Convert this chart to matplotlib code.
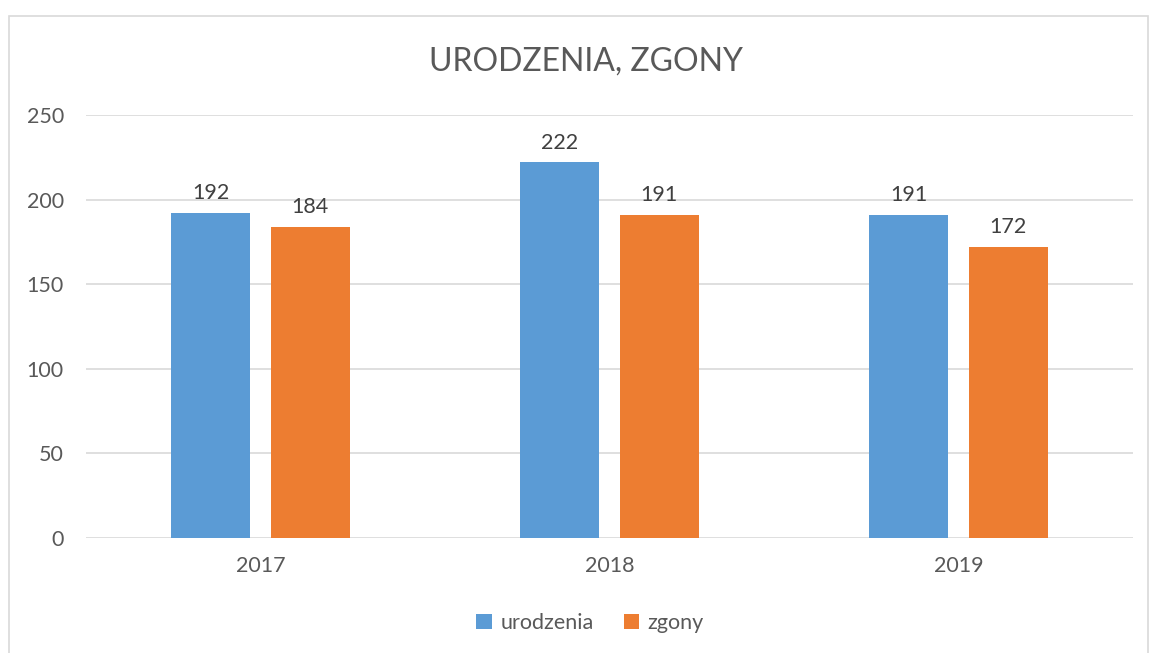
import numpy as np
import matplotlib
matplotlib.use('Agg')
import matplotlib.pyplot as plt
from matplotlib.patches import Rectangle

plt.rcParams['font.family'] = ['Lato', 'DejaVu Sans']

# ── dane ──────────────────────────────────────────────
years = ['2017', '2018', '2019']
urodzenia = [192, 222, 191]
zgony = [184, 191, 172]

TEXT = '#595959'
GRID = '#d9d9d9'
BLUE = '#5b9bd5'
ORANGE = '#ed7d31'
FS = 15.5

fig = plt.figure(figsize=(11.51, 6.53), dpi=100)
fig.patches.append(Rectangle((9 / 1151, -0.05), (1148 - 9) / 1151, 1.05 - 16 / 653,
                             transform=fig.transFigure, fill=False,
                             edgecolor=GRID, linewidth=1.2))

ax = fig.add_axes([86 / 1151, 1 - 538 / 653, (1133 - 86) / 1151, (538 - 115) / 653])

x = np.arange(len(years))
w = 0.226
off = 0.143
b1 = ax.bar(x - off, urodzenia, w, color=BLUE, label='urodzenia')
b2 = ax.bar(x + off, zgony, w, color=ORANGE, label='zgony')

for bars in (b1, b2):
    for r in bars:
        ax.annotate(f'{int(r.get_height())}', (r.get_x() + r.get_width() / 2, r.get_height()),
                    xytext=(0, 7), textcoords='offset points', ha='center', va='bottom',
                    fontsize=FS, color='#404040')

ax.set_xlim(-0.5, 2.5)
ax.set_ylim(0, 250)
ax.set_yticks(range(0, 251, 50))
ax.set_xticks(x)
ax.set_xticklabels(years)
ax.tick_params(length=0, labelsize=FS, labelcolor=TEXT)
ax.tick_params(axis='y', pad=16)
ax.tick_params(axis='x', pad=13)
ax.grid(axis='y', color=GRID, linewidth=1.2)
ax.set_axisbelow(True)
for s in ax.spines.values():
    s.set_visible(False)

fig.text(586 / 1151, 1 - 62 / 653, 'URODZENIA, ZGONY', ha='center', va='center',
         fontsize=23, color=TEXT)

fig.legend(handles=[b1, b2], loc='center', bbox_to_anchor=(590 / 1151, 1 - 623 / 653),
           ncol=2, frameon=False, fontsize=FS, labelcolor=TEXT,
           handlelength=0.7, handleheight=0.7, handletextpad=0.4, columnspacing=1.4)

fig.savefig('out.png', dpi=100)
